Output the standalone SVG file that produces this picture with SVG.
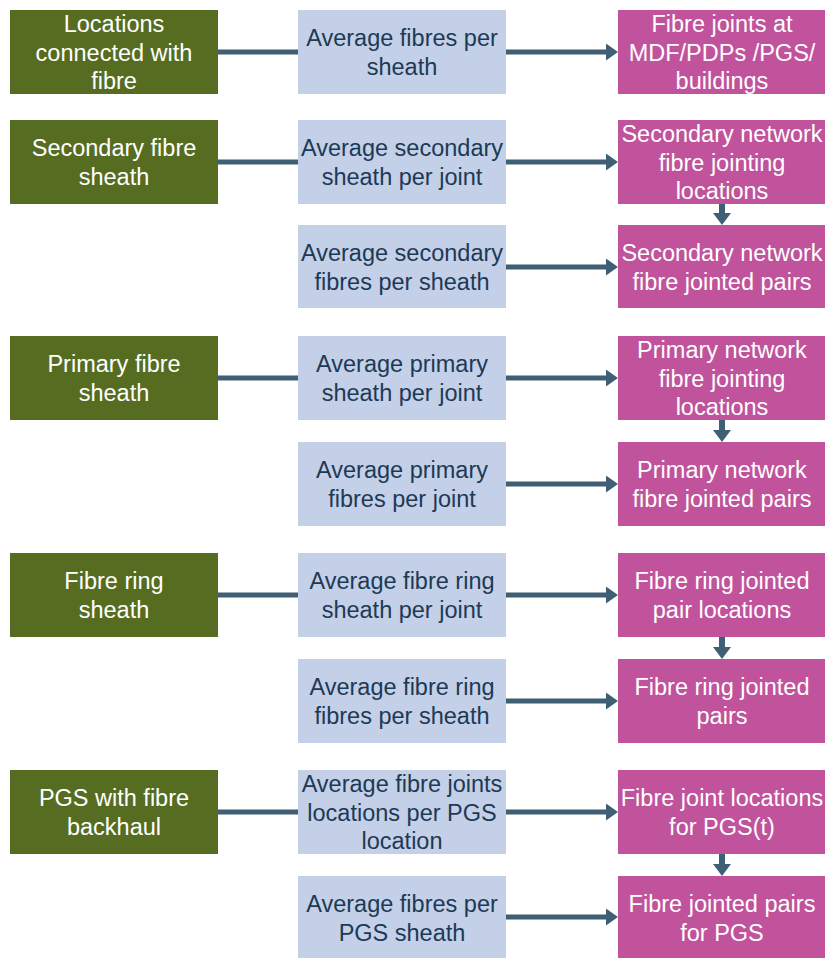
<svg xmlns="http://www.w3.org/2000/svg" width="825" height="958" viewBox="0 0 825 958">
<defs>
<style>
.g{fill:#566d21}
.b{fill:#c4cfe8}
.p{fill:#c0539c}
text{font-family:"Liberation Sans",Arial,sans-serif;font-size:23.5px;text-anchor:middle}
.tw{fill:#ffffff}
.td{fill:#1d3a55}
.c{stroke:#3f5f75;stroke-width:5;fill:none}
.v{stroke-width:6}
</style>
<marker id="ah" markerUnits="userSpaceOnUse" viewBox="0 0 12 17" refX="2" refY="8.5" markerWidth="12" markerHeight="17" orient="auto"><path d="M0,0 L12,8.5 L0,17 Z" fill="#3f5f75"/></marker>
<marker id="av" markerUnits="userSpaceOnUse" viewBox="0 0 12 18" refX="1" refY="9" markerWidth="12" markerHeight="18" orient="auto"><path d="M0,0 L12,9 L0,18 Z" fill="#3f5f75"/></marker>
</defs>
<rect width="825" height="958" fill="#ffffff"/>
<g id="connectors">
<line class="c" x1="218" y1="52" x2="298" y2="52"/>
<line class="c" x1="506" y1="52" x2="608" y2="52" marker-end="url(#ah)"/>
<line class="c" x1="218" y1="162" x2="298" y2="162"/>
<line class="c" x1="506" y1="162" x2="608" y2="162" marker-end="url(#ah)"/>
<line class="c" x1="506" y1="267" x2="608" y2="267" marker-end="url(#ah)"/>
<line class="c" x1="218" y1="378" x2="298" y2="378"/>
<line class="c" x1="506" y1="378" x2="608" y2="378" marker-end="url(#ah)"/>
<line class="c" x1="506" y1="484" x2="608" y2="484" marker-end="url(#ah)"/>
<line class="c" x1="218" y1="595" x2="298" y2="595"/>
<line class="c" x1="506" y1="595" x2="608" y2="595" marker-end="url(#ah)"/>
<line class="c" x1="506" y1="701" x2="608" y2="701" marker-end="url(#ah)"/>
<line class="c" x1="218" y1="812" x2="298" y2="812"/>
<line class="c" x1="506" y1="812" x2="608" y2="812" marker-end="url(#ah)"/>
<line class="c" x1="506" y1="917" x2="608" y2="917" marker-end="url(#ah)"/>
<line class="c v" x1="722" y1="204" x2="722" y2="214" marker-end="url(#av)"/>
<line class="c v" x1="722" y1="420" x2="722" y2="431" marker-end="url(#av)"/>
<line class="c v" x1="722" y1="637" x2="722" y2="648" marker-end="url(#av)"/>
<line class="c v" x1="722" y1="854" x2="722" y2="865" marker-end="url(#av)"/>
</g>
<g id="n1"><rect class="g" x="10" y="10" width="208" height="84"/><text class="tw"><tspan x="114" y="32">Locations</tspan><tspan x="114" y="60.5">connected with</tspan><tspan x="114" y="89">fibre</tspan></text></g>
<g id="n2"><rect class="b" x="298" y="10" width="208" height="84"/><text class="td"><tspan x="402" y="46">Average fibres per</tspan><tspan x="402" y="74.5">sheath</tspan></text></g>
<g id="n3"><rect class="p" x="618" y="10" width="208" height="84"/><text class="tw"><tspan x="722" y="32">Fibre joints at</tspan><tspan x="722" y="60.5">MDF/PDPs /PGS/</tspan><tspan x="722" y="89">buildings</tspan></text></g>
<g id="n4"><rect class="g" x="10" y="120" width="208" height="84"/><text class="tw"><tspan x="114" y="156">Secondary fibre</tspan><tspan x="114" y="184.5">sheath</tspan></text></g>
<g id="n5"><rect class="b" x="298" y="120" width="208" height="84"/><text class="td"><tspan x="402" y="156">Average secondary</tspan><tspan x="402" y="184.5">sheath per joint</tspan></text></g>
<g id="n6"><rect class="p" x="618" y="120" width="208" height="84"/><text class="tw"><tspan x="722" y="142">Secondary network</tspan><tspan x="722" y="170.5">fibre jointing</tspan><tspan x="722" y="199">locations</tspan></text></g>
<g id="n7"><rect class="b" x="298" y="225" width="208" height="83"/><text class="td"><tspan x="402" y="261">Average secondary</tspan><tspan x="402" y="289.5">fibres per sheath</tspan></text></g>
<g id="n8"><rect class="p" x="618" y="225" width="208" height="83"/><text class="tw"><tspan x="722" y="261">Secondary network</tspan><tspan x="722" y="289.5">fibre jointed pairs</tspan></text></g>
<g id="n9"><rect class="g" x="10" y="336" width="208" height="84"/><text class="tw"><tspan x="114" y="372">Primary fibre</tspan><tspan x="114" y="400.5">sheath</tspan></text></g>
<g id="n10"><rect class="b" x="298" y="336" width="208" height="84"/><text class="td"><tspan x="402" y="372">Average primary</tspan><tspan x="402" y="400.5">sheath per joint</tspan></text></g>
<g id="n11"><rect class="p" x="618" y="336" width="208" height="84"/><text class="tw"><tspan x="722" y="358">Primary network</tspan><tspan x="722" y="386.5">fibre jointing</tspan><tspan x="722" y="415">locations</tspan></text></g>
<g id="n12"><rect class="b" x="298" y="442" width="208" height="84"/><text class="td"><tspan x="402" y="478">Average primary</tspan><tspan x="402" y="506.5">fibres per joint</tspan></text></g>
<g id="n13"><rect class="p" x="618" y="442" width="208" height="84"/><text class="tw"><tspan x="722" y="478">Primary network</tspan><tspan x="722" y="506.5">fibre jointed pairs</tspan></text></g>
<g id="n14"><rect class="g" x="10" y="553" width="208" height="84"/><text class="tw"><tspan x="114" y="589">Fibre ring</tspan><tspan x="114" y="617.5">sheath</tspan></text></g>
<g id="n15"><rect class="b" x="298" y="553" width="208" height="84"/><text class="td"><tspan x="402" y="589">Average fibre ring</tspan><tspan x="402" y="617.5">sheath per joint</tspan></text></g>
<g id="n16"><rect class="p" x="618" y="553" width="208" height="84"/><text class="tw"><tspan x="722" y="589">Fibre ring jointed</tspan><tspan x="722" y="617.5">pair locations</tspan></text></g>
<g id="n17"><rect class="b" x="298" y="659" width="208" height="84"/><text class="td"><tspan x="402" y="695">Average fibre ring</tspan><tspan x="402" y="723.5">fibres per sheath</tspan></text></g>
<g id="n18"><rect class="p" x="618" y="659" width="208" height="84"/><text class="tw"><tspan x="722" y="695">Fibre ring jointed</tspan><tspan x="722" y="723.5">pairs</tspan></text></g>
<g id="n19"><rect class="g" x="10" y="770" width="208" height="84"/><text class="tw"><tspan x="114" y="806">PGS with fibre</tspan><tspan x="114" y="834.5">backhaul</tspan></text></g>
<g id="n20"><rect class="b" x="298" y="770" width="208" height="84"/><text class="td"><tspan x="402" y="792">Average fibre joints</tspan><tspan x="402" y="820.5">locations per PGS</tspan><tspan x="402" y="849">location</tspan></text></g>
<g id="n21"><rect class="p" x="618" y="770" width="208" height="84"/><text class="tw"><tspan x="722" y="806">Fibre joint locations</tspan><tspan x="722" y="834.5">for PGS(t)</tspan></text></g>
<g id="n22"><rect class="b" x="298" y="876" width="208" height="82"/><text class="td"><tspan x="402" y="912">Average fibres per</tspan><tspan x="402" y="940.5">PGS sheath</tspan></text></g>
<g id="n23"><rect class="p" x="618" y="876" width="208" height="82"/><text class="tw"><tspan x="722" y="912">Fibre jointed pairs</tspan><tspan x="722" y="940.5">for PGS</tspan></text></g>
</svg>
